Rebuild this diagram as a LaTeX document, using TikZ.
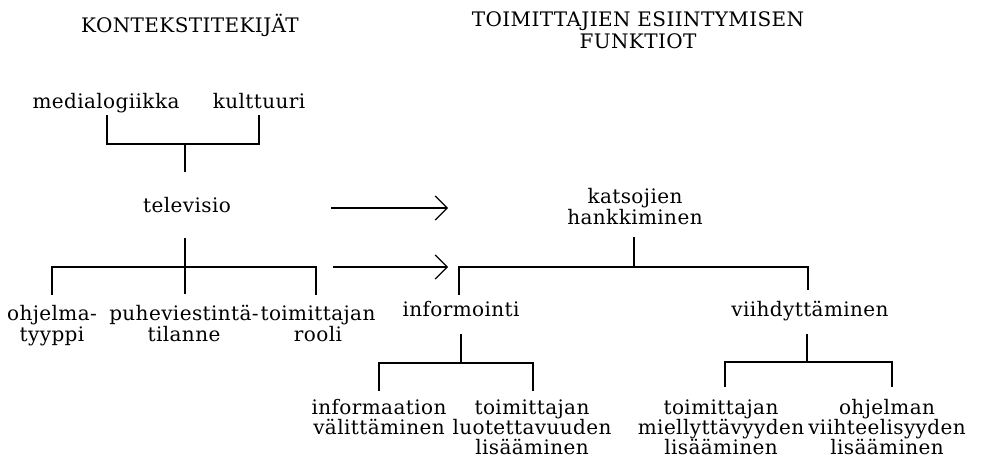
\documentclass[tikz,border=0pt]{standalone}
\usepackage{fontspec}
\setmainfont{DejaVu Serif}[LetterSpace=2]
\usetikzlibrary{arrows.meta,calc}
% stacked, centred lines: baseline at the first line, fixed line pitch,
% every line padded to 14pt above and 6pt below its baseline
\newcommand\lines[1]{\vtop{\lineskiplimit=-100pt\lineskip=0pt
  \halign{\hfil\rule{0pt}{14pt}##\rule[-6pt]{0pt}{6pt}\hfil\cr#1\crcr}}}
\begin{document}
\begin{tikzpicture}[x=1pt,y=-1pt,
  every node/.style={inner sep=0pt,anchor=base},
  lbl/.style={font=\fontsize{20}{21}\selectfont},
  lbltight/.style={font=\fontsize{20}{20.3}\selectfont},
  ttl/.style={font=\fontsize{20}{22}\selectfont},
  link/.style={line width=1.2pt},
  flow/.style={line width=1.2pt,-{Straight Barb[length=12pt,width=24pt,line width=1.2pt]}}]
\useasboundingbox (0,0) rectangle (981,463);

% headings
\node[ttl] (hctx) at (190,32) {\lines{KONTEKSTITEKIJÄT}};
\node[ttl] (hfun) at (638,26) {\lines{TOIMITTAJIEN ESIINTYMISEN\cr FUNKTIOT}};

% context factors
\node[lbl] (media) at (106,108) {\lines{medialogiikka}};
\node[lbl] (kult)  at (259,108) {\lines{kulttuuri}};
\node[lbl] (tv)    at (187,212) {\lines{televisio}};
\node[lbl] (ohj)   at (52,320)  {\lines{ohjelma-\cr tyyppi}};
\node[lbl] (puhe)  at (184,320) {\lines{puheviestintä-\cr tilanne}};
\node[lbl] (rooli) at (318,320) {\lines{toimittajan\cr rooli}};

% functions
\node[lbl] (kats)  at (635,203) {\lines{katsojien\cr hankkiminen}};
\node[lbl] (info)  at (461,316) {\lines{informointi}};
\node[lbl] (viih)  at (810,316) {\lines{viihdyttäminen}};
\node[lbltight] (ivalit) at (379,414) {\lines{informaation\cr välittäminen}};
\node[lbltight] (iluot)  at (532,414) {\lines{toimittajan\cr luotettavuuden\cr lisääminen}};
\node[lbltight] (vmiel)  at (721,414) {\lines{toimittajan\cr miellyttävyyden\cr lisääminen}};
\node[lbltight] (vviih)  at (887,414) {\lines{ohjelman\cr viihteelisyyden\cr lisääminen}};

% junctions of the brackets
\coordinate (j1) at (185,144);
\coordinate (j2) at (185,267);
\coordinate (j3) at (634,267);
\coordinate (j4) at (461,363);
\coordinate (j5) at (807,362);

% context brackets
\draw[link] ($(media.south)+(1,1)$) |- (j1) -| ($(kult.south)+(0,1)$);
\draw[link] (j1) -- ($(j1 |- tv.north)+(0,-25)$);
\draw[link] ($(j2 |- tv.south)+(0,20)$) -- ($(j2 |- puhe.north)+(0,-10)$);
\draw[link] ($(ohj.north)+(0,-10)$) |- (j2) -| ($(rooli.north)+(-2,-10)$);

% function brackets
\draw[link] ($(j3 |- kats.south)+(0,7)$) -- (j3);
\draw[link] ($(info.north)+(-2,-6)$) |- (j3) -| ($(viih.north)+(-2,-10)$);
\draw[link] ($(info.south)+(0,12)$) -- (j4);
\draw[link] ($(ivalit.north)+(0,-8)$) |- (j4) -| ($(iluot.north)+(1,-8)$);
\draw[link] ($(j5 |- viih.south)+(0,12)$) -- (j5);
\draw[link] ($(vmiel.north)+(4,-12)$) |- (j5) -| ($(vviih.north)+(5,-12)$);

% arrows from context to functions
\coordinate (a1s) at (331,208);
\coordinate (a1e) at (448,208);
\coordinate (a2s) at (333,267);
\coordinate (a2e) at (448,267);
\draw[flow] (a1s) -- (a1e);
\draw[flow] (a2s) -- (a2e);
\end{tikzpicture}
\end{document}
